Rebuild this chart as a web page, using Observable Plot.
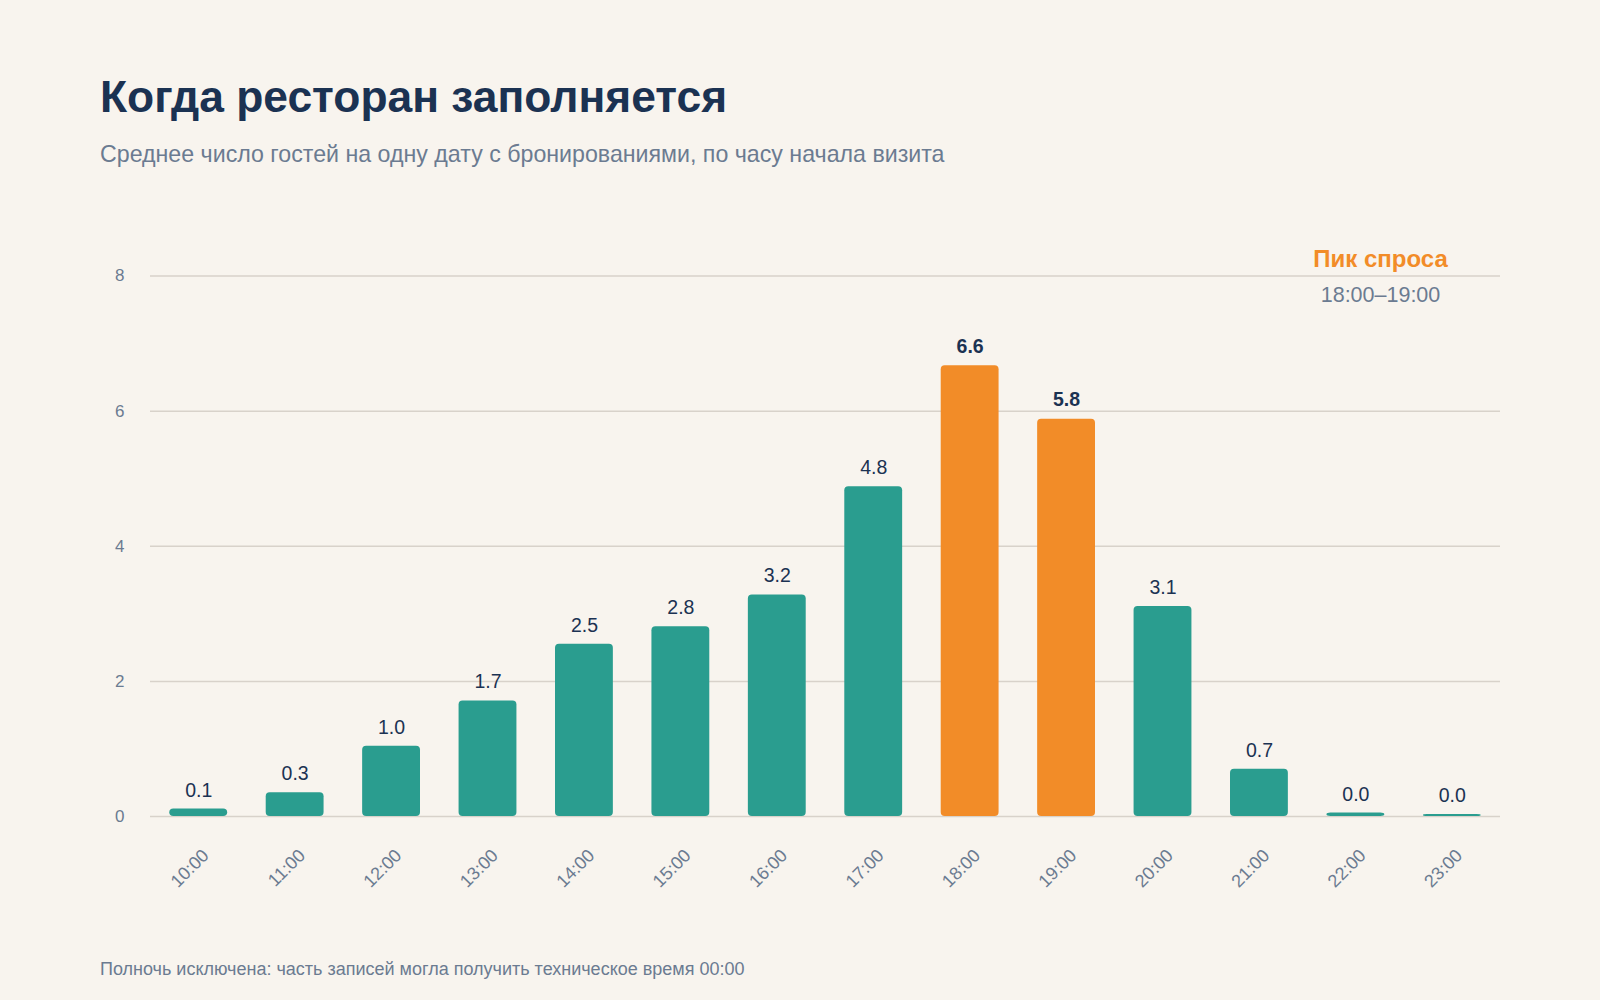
<!DOCTYPE html>
<html><head><meta charset="utf-8">
<script src="https://cdn.jsdelivr.net/npm/d3@7"></script>
<script src="https://cdn.jsdelivr.net/npm/@observablehq/plot@0.6"></script>
<style>
html,body{margin:0;padding:0;background:#f8f4ee;width:1600px;height:1000px;overflow:hidden;font-family:"Liberation Sans",Arial,sans-serif;}
#title{position:absolute;left:100px;top:75.2px;font-size:44.4px;line-height:44.4px;font-weight:700;color:#1b3252;white-space:nowrap;}
#subtitle{position:absolute;left:100px;top:143px;font-size:23.2px;line-height:23.2px;color:#6b7b91;white-space:nowrap;}
#chart{position:absolute;left:0;top:190px;}
#footer{position:absolute;left:100px;top:959.8px;font-size:18px;line-height:18px;color:#6b7b91;white-space:nowrap;}
</style></head><body>
<div id="title">Когда ресторан заполняется</div>
<div id="subtitle">Среднее число гостей на одну дату с бронированиями, по часу начала визита</div>
<div id="chart"></div>
<div id="footer">Полночь исключена: часть записей могла получить техническое время 00:00</div>
<script>
const hours = ["10:00","11:00","12:00","13:00","14:00","15:00","16:00","17:00","18:00","19:00","20:00","21:00","22:00","23:00"];
const guests = [0.11,0.35,1.04,1.71,2.55,2.81,3.28,4.88,6.67,5.88,3.11,0.70,0.05,0.03];
const peakHours = ["18:00","19:00"];
const yTicks = [0,2,4,6,8];
const peakTitle = "Пик спроса";
const peakRange = "18:00–19:00";

const data = hours.map((h,i)=>({hour:h, value:guests[i], peak: peakHours.includes(h)}));
const fmt = v => (Math.floor(v*10 + 1e-9)/10).toFixed(1);
const teal = "#2a9d8f", orange = "#f28c28", navy = "#1b3252", gray = "#6b7b91";
const font = "Liberation Sans, Arial, sans-serif";

const chart = Plot.plot({
  width: 1600, height: 740,
  marginLeft: 150, marginRight: 100, marginTop: 85.5, marginBottom: 114,
  style: {background: "transparent", fontFamily: font, overflow: "visible"},
  x: {domain: hours, paddingInner: 0.4, paddingOuter: 0.2, round: false, label: null},
  y: {domain: [0, 8], ticks: yTicks, label: null},
  color: {domain: [false, true], range: [teal, orange]},
  marks: [
    Plot.gridY(yTicks, {stroke: "#d8d2ca", strokeOpacity: 1, strokeWidth: 1.5}),
    Plot.barY(data, {x: "hour", y: "value", fill: "peak", rx: 4}),
    Plot.text(data, {filter: d => !d.peak, x: "hour", y: "value", text: d => fmt(d.value), lineAnchor: "bottom", dy: -12.5, fontSize: 19.5, fill: navy}),
    Plot.text(data, {filter: d => d.peak, x: "hour", y: "value", text: d => fmt(d.value), lineAnchor: "bottom", dy: -13, fontSize: 19.5, fontWeight: "bold", fill: navy}),
    Plot.axisY({ticks: yTicks, tickSize: 0, tickPadding: 26, fontSize: 17, fill: gray, label: null}),
    Plot.axisX({tickRotate: -45, tickSize: 0, tickPadding: 36, dx: 7, fontSize: 18, fill: gray, label: null}),
    Plot.text([peakTitle], {frameAnchor: "top-right", dx: -120, dy: -8.8, lineAnchor: "bottom", text: d => d, textAnchor: "middle", fontSize: 24, fontWeight: "bold", fill: orange}),
    Plot.text([peakRange], {frameAnchor: "top-right", dx: -120, dy: 26.2, lineAnchor: "bottom", text: d => d, textAnchor: "middle", fontSize: 21.5, fill: gray})
  ]
});
document.getElementById("chart").appendChild(chart);
</script>
</body></html>
